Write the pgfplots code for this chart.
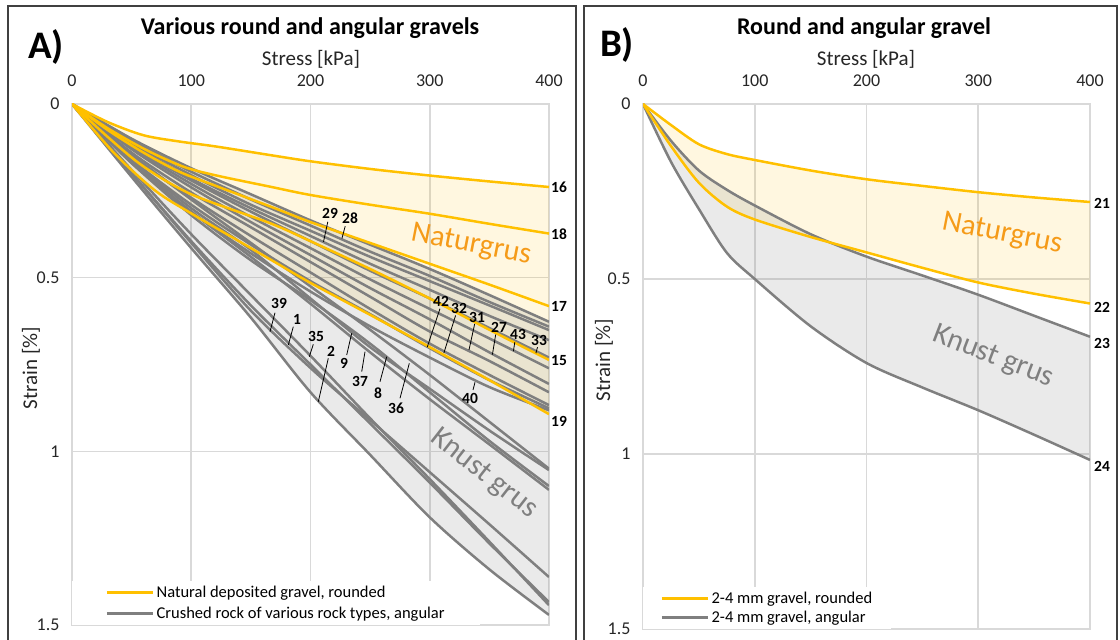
\documentclass[border=0pt]{standalone}
\usepackage{fontspec}
\setmainfont{Carlito}
\usepackage{pgfplots}
\pgfplotsset{compat=1.18}
\usepgfplotslibrary{fillbetween}
\definecolor{yel}{HTML}{FFC000}
\definecolor{gry}{HTML}{7F7F7F}
\definecolor{gridc}{HTML}{D9D9D9}
\definecolor{nat}{RGB}{245,155,25}
\definecolor{frm}{HTML}{404040}
\tikzset{
  yl/.style={draw=yel, line width=2.5pt, smooth},
  gl/.style={draw=gry, line width=2.5pt, smooth},
  num/.style={font=\bfseries\fontsize{15.5}{16}\selectfont, inner sep=0pt},
  ptr/.style={draw=black, line width=0.8pt},
}
\pgfplotsset{
  panel/.style={
    scale only axis, xmin=0, xmax=400, ymin=0, ymax=1.5, y dir=reverse,
    xtick={0,100,200,300,400}, ytick={0,0.5,1,1.5},
    xticklabel pos=upper,
    grid=major, grid style={draw=gridc, line width=1.6pt},
    axis line style={draw=gridc, line width=1.6pt},
    major tick length=0pt,
    tick label style={font=\fontsize{18}{20}\selectfont, text=black!85},
    /pgf/number format/assume math mode=true,
    xticklabel style={anchor=base, yshift=17pt},
    yticklabel style={anchor=east, xshift=-9pt},
    set layers,
    legend cell align=left,
    legend image code/.code={\draw[##1] (0pt,0pt) -- (46pt,0pt);},
  }
}
\begin{document}
\begin{tikzpicture}
% ---------------- Panel A ----------------
\begin{axis}[panel, at={(72pt,15pt)}, anchor=south west, width=477pt, height=521pt,
  legend style={at={(axis description cs:0,0)}, anchor=south west, draw=none, fill=white,
    font=\fontsize{16.5}{18}\selectfont, inner xsep=33pt, inner ysep=3pt, row sep=4pt}]
\addlegendimage{yel, line width=3.4pt}
\addlegendentry{Natural deposited gravel, rounded}
\addlegendimage{gry, line width=3.4pt}
\addlegendentry{Crushed rock of various rock types, angular}
% angular, upper group
\addplot[gl, name path=G1] coordinates {(0,0) (50,0.10) (100,0.185) (150,0.26) (200,0.335) (250,0.405) (300,0.475) (350,0.55) (400,0.627)};
\addplot[gl] coordinates {(0,0) (50,0.105) (100,0.195) (150,0.275) (200,0.35) (250,0.425) (300,0.495) (350,0.57) (400,0.641)};
\addplot[gl] coordinates {(0,0) (50,0.11) (100,0.205) (150,0.29) (200,0.365) (250,0.44) (300,0.51) (350,0.58) (400,0.651)};
\addplot[gl] coordinates {(0,0) (50,0.115) (100,0.215) (150,0.30) (200,0.38) (250,0.46) (300,0.535) (350,0.61) (400,0.68)};
\addplot[gl] coordinates {(0,0) (50,0.12) (100,0.22) (150,0.31) (200,0.395) (250,0.48) (300,0.56) (350,0.645) (400,0.73)};
\addplot[gl] coordinates {(0,0) (50,0.125) (100,0.23) (150,0.325) (200,0.415) (250,0.505) (300,0.59) (350,0.675) (400,0.761)};
\addplot[gl] coordinates {(0,0) (50,0.13) (100,0.24) (150,0.34) (200,0.435) (250,0.53) (300,0.62) (350,0.715) (400,0.806)};
\addplot[gl] coordinates {(0,0) (50,0.14) (100,0.255) (150,0.355) (200,0.455) (250,0.555) (300,0.655) (350,0.74) (400,0.83)};
\addplot[gl] coordinates {(0,0) (50,0.15) (100,0.27) (150,0.38) (200,0.485) (250,0.59) (300,0.69) (350,0.78) (400,0.867)};
\addplot[gl] coordinates {(0,0) (50,0.16) (100,0.29) (150,0.405) (200,0.51) (250,0.605) (300,0.703) (350,0.795) (400,0.876)};
\addplot[gl] coordinates {(0,0) (50,0.17) (100,0.31) (150,0.43) (200,0.54) (250,0.64) (300,0.73) (350,0.815) (400,0.882)};
% angular, steep group
\addplot[gl] coordinates {(0,0) (50,0.145) (100,0.275) (150,0.40) (200,0.525) (250,0.65) (300,0.78) (350,0.915) (400,1.05)};
\addplot[gl] coordinates {(0,0) (50,0.16) (100,0.30) (150,0.42) (200,0.56) (250,0.70) (300,0.82) (350,0.94) (400,1.054)};
\addplot[gl] coordinates {(0,0) (50,0.17) (100,0.32) (150,0.45) (200,0.565) (250,0.69) (300,0.83) (350,0.97) (400,1.10)};
\addplot[gl] coordinates {(0,0) (50,0.165) (100,0.31) (150,0.44) (200,0.575) (250,0.715) (300,0.85) (350,0.98) (400,1.111)};
\addplot[gl] coordinates {(0,0) (50,0.20) (100,0.40) (150,0.595) (200,0.76) (250,0.91) (300,1.06) (350,1.21) (400,1.362)};
\addplot[gl] coordinates {(0,0) (50,0.20) (100,0.395) (150,0.58) (200,0.75) (250,0.92) (300,1.09) (350,1.265) (400,1.434)};
\addplot[gl] coordinates {(0,0) (50,0.19) (100,0.375) (150,0.55) (200,0.725) (250,0.905) (300,1.08) (350,1.26) (400,1.443)};
\addplot[gl, name path=C2] coordinates {(0,0) (50,0.21) (100,0.415) (150,0.615) (200,0.83) (250,1.01) (300,1.19) (350,1.34) (400,1.471)};
% rounded
\addplot[yl, name path=Y16] coordinates {(0,0) (30,0.052) (60,0.09) (90,0.108) (120,0.122) (166,0.147) (200,0.165) (250,0.187) (300,0.206) (350,0.223) (400,0.239)};
\addplot[yl] coordinates {(0,0) (30,0.07) (62,0.132) (93,0.18) (120,0.205) (166,0.238) (200,0.262) (250,0.29) (300,0.316) (350,0.345) (400,0.373)};
\addplot[yl] coordinates {(0,0) (30,0.075) (60,0.14) (90,0.195) (120,0.235) (170,0.30) (200,0.34) (250,0.40) (300,0.46) (350,0.52) (400,0.582)};
\addplot[yl] coordinates {(0,0) (30,0.095) (60,0.18) (100,0.26) (166,0.343) (200,0.395) (250,0.475) (300,0.56) (350,0.65) (400,0.737)};
\addplot[yl, name path=Y19] coordinates {(0,0) (35,0.14) (70,0.25) (100,0.315) (135,0.385) (170,0.455) (200,0.515) (250,0.607) (300,0.70) (350,0.795) (400,0.893)};
\addplot[fill=yel, fill opacity=0.12, draw=none] fill between[of=Y16 and Y19];
\addplot[fill=gry, fill opacity=0.16, draw=none] fill between[of=G1 and C2];
\end{axis}
% ---------------- Panel B ----------------
\begin{axis}[panel, at={(643pt,11pt)}, anchor=south west, width=447pt, height=525pt,
  legend style={at={(axis description cs:0,0)}, anchor=south west, draw=none, fill=white,
    font=\fontsize{16.5}{18}\selectfont, inner xsep=17pt, inner ysep=3pt, row sep=2pt}]
\addlegendimage{yel, line width=3.4pt}
\addlegendentry{2-4 mm gravel, rounded}
\addlegendimage{gry, line width=3.4pt}
\addlegendentry{2-4 mm gravel, angular}
\addplot[gl, name path=R23] coordinates {(0,0) (25,0.105) (50,0.19) (75,0.245) (100,0.29) (150,0.372) (200,0.436) (250,0.49) (300,0.545) (350,0.605) (400,0.665)};
\addplot[gl, name path=R24] coordinates {(0,0) (25,0.165) (50,0.30) (75,0.425) (100,0.50) (150,0.635) (200,0.74) (250,0.81) (300,0.875) (350,0.945) (400,1.017)};
\addplot[yl, name path=R21] coordinates {(0,0) (25,0.06) (50,0.115) (75,0.143) (100,0.16) (150,0.19) (200,0.215) (250,0.234) (300,0.252) (350,0.267) (400,0.28)};
\addplot[yl, name path=R22] coordinates {(0,0) (25,0.12) (50,0.225) (75,0.293) (100,0.33) (150,0.38) (200,0.424) (250,0.468) (300,0.51) (350,0.542) (400,0.57)};
\addplot[fill=yel, fill opacity=0.12, draw=none] fill between[of=R21 and R22];
\addplot[fill=gry, fill opacity=0.16, draw=none] fill between[of=R23 and R24];
\end{axis}
% ---------------- annotations (pixel coordinates, y down) ----------------
\begin{scope}[x=1pt, y=-1pt, shift={(0pt,640pt)}]
\draw[frm, line width=1.3pt] (8,640) -- (8,6) -- (576,6) -- (576,640);
\draw[frm, line width=1.3pt] (584,640) -- (584,6) -- (1117,6) -- (1117,640);
\node[font=\bfseries\fontsize{39}{40}\selectfont, anchor=base] at (46,59) {A)};
\node[font=\bfseries\fontsize{39}{40}\selectfont, anchor=base] at (617,57) {B)};
\node[font=\bfseries\fontsize{24}{26}\selectfont, anchor=base] at (310,35) {Various round and angular gravels};
\node[font=\bfseries\fontsize{24}{26}\selectfont, anchor=base] at (864,35) {Round and angular gravel};
\node[font=\fontsize{21}{22}\selectfont, anchor=base, text=black!85] at (311,66) {Stress [kPa]};
\node[font=\fontsize{21}{22}\selectfont, anchor=base, text=black!85] at (866,66) {Stress [kPa]};
\node[font=\fontsize{21}{22}\selectfont, rotate=90, text=black!85] at (31,368) {Strain [\%]};
\node[font=\fontsize{21}{22}\selectfont, rotate=90, text=black!85] at (604,360) {Strain [\%]};
\node[font=\fontsize{30}{32}\selectfont, text=nat, rotate=-11] at (471,245) {Naturgrus};
\node[font=\fontsize{30}{32}\selectfont, text=gry, rotate=-38] at (484,474) {Knust grus};
\node[font=\fontsize{30}{32}\selectfont, text=nat, rotate=-11] at (1002,234) {Naturgrus};
\node[font=\fontsize{30}{32}\selectfont, text=gry, rotate=-21] at (993,357) {Knust grus};
% end labels
\node[num, anchor=west] at (551,187) {16};
\node[num, anchor=west] at (551,234) {18};
\node[num, anchor=west] at (551,306) {17};
\node[num, anchor=west] at (551,361) {15};
\node[num, anchor=west] at (551,421) {19};
\node[num, anchor=west] at (1094,203) {21};
\node[num, anchor=west] at (1094,307) {22};
\node[num, anchor=west] at (1094,343) {23};
\node[num, anchor=west] at (1094,466) {24};
% inner labels with pointers
\node[num] at (330,213) {29}; \draw[ptr] (327.8,221.8) -- (323.5,241.8);
\node[num] at (350,218) {28}; \draw[ptr] (345.2,226.2) -- (341.9,238.5);
\node[num] at (441,301) {42}; \draw[ptr] (439.9,308.8) -- (427.2,347.2);
\node[num] at (459,308) {32}; \draw[ptr] (455.6,315.4) -- (443.9,352.9);
\node[num] at (477,317) {31}; \draw[ptr] (474.7,323.8) -- (469,349.9);
\node[num] at (499,327) {27}; \draw[ptr] (495.7,334.5) -- (492.4,354.6);
\node[num] at (518,334) {43}; \draw[ptr] (514.8,342.2) -- (513.4,351.2);
\node[num] at (539,340) {33}; \draw[ptr] (537.5,347.2) -- (535.9,353.2);
\node[num] at (470,398) {40}; \draw[ptr] (473,390) -- (475,382.3);
\node[num] at (279,303) {39}; \draw[ptr] (275,312.7) -- (270,331.7);
\node[num] at (297,319) {1}; \draw[ptr] (293.3,326.7) -- (288.3,345);
\node[num] at (316,336) {35}; \draw[ptr] (313.3,344.3) -- (309.3,356.7);
\node[num] at (331,351) {2}; \draw[ptr] (328.3,358.3) -- (318.3,401.7);
\node[num] at (344,363) {9}; \draw[ptr] (346.7,355) -- (351.7,333.3);
\node[num] at (360,381) {37}; \draw[ptr] (361.7,371.7) -- (365,351.7);
\node[num] at (378,393) {8}; \draw[ptr] (380,381.7) -- (386.7,356.7);
\node[num] at (396,408) {36}; \draw[ptr] (400,398.3) -- (409.3,363.3);
\end{scope}
\pgfresetboundingbox
\path[use as bounding box] (0pt,0pt) rectangle (1120pt,640pt);
\end{tikzpicture}
\end{document}
